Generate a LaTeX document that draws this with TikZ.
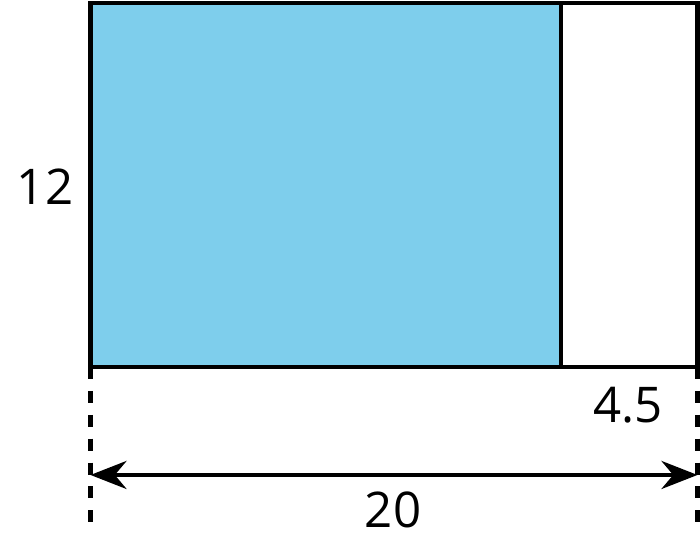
\documentclass[tikz,border=0pt]{standalone}
\usepackage{fontspec}
\setmainfont{Open Sans}
\usetikzlibrary{arrows.meta,positioning,calc}
\definecolor{areablue}{RGB}{126,206,236}

\begin{document}
\begin{tikzpicture}[line width=1.2pt, label node/.style={font=\fontsize{14}{16}\selectfont,inner sep=0pt}, dim line/.style={dash pattern=on 3.4pt off 3.4pt}]%
\useasboundingbox (0,0) rectangle (7,5.44);
\begin{scope}
\coordinate (tl) at (0.905,5.41);
\coordinate (bl) at (0.905,1.77);
\coordinate (tm) at (5.61,5.41);
\coordinate (bm) at (5.61,1.77);
\coordinate (tr) at (6.975,5.41);
\coordinate (br) at (6.975,1.77);
\coordinate (dl) at (0.905,0.22);
\coordinate (dr) at (6.975,0.22);
\coordinate (al) at (0.905,0.69);
\coordinate (ar) at (6.975,0.69);
\end{scope}
\begin{scope}
\fill[areablue] (bl) rectangle (tm);
\draw (bl) rectangle (tr);
\draw (tm) -- (bm);
\draw[dim line] (bl) -- (dl);
\draw[dim line] (br) -- (dr);
\draw[{Stealth[length=3.6mm,width=2.8mm]}-{Stealth[length=3.6mm,width=2.8mm]}] (al) -- (ar);
\end{scope}
\node[label node] (h) at (0.45,3.57) {12};
\node[label node] (w1) at (6.28,1.39) {4.5};
\node[label node] (w) at (3.93,0.34) {20};
\end{tikzpicture}
\end{document}
